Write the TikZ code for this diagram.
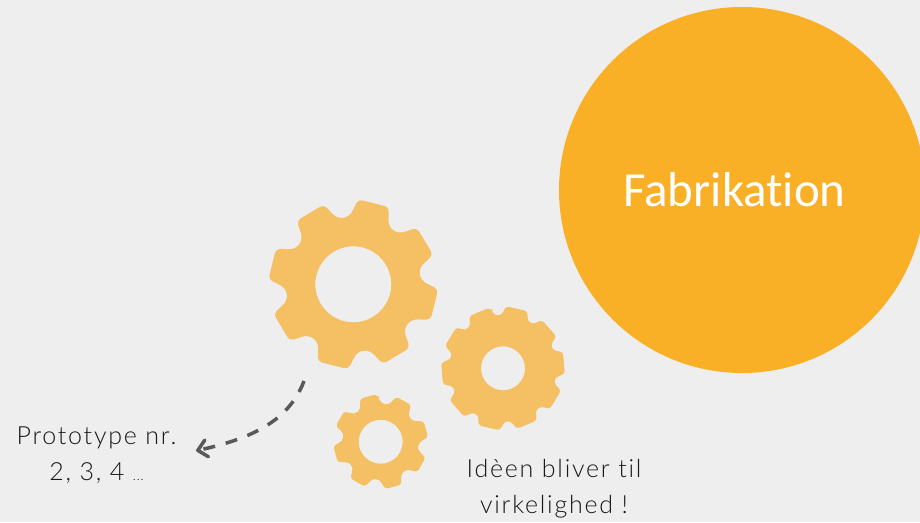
\documentclass[tikz,border=0pt]{standalone}
\usepackage{fontspec}
\usetikzlibrary{arrows.meta}
\setmainfont[Ligatures=NoCommon]{Carlito}
\newfontfamily\handfont[LetterSpace=7,Ligatures=NoCommon]{Lato Light}
\definecolor{backcol}{HTML}{EEEEEE}
\definecolor{suncol}{HTML}{F9B026}
\definecolor{gearcol}{HTML}{F4C063}
\definecolor{dashcol}{HTML}{595959}
\tikzset{
    handtext/.style={align=center,text=black!90,inner sep=0pt,
        font=\handfont\fontsize{25}{36}\selectfont}
}
\begin{document}
\begin{tikzpicture}[x=1pt,y=1pt]
    \useasboundingbox (0,0) rectangle (920,522);
    \clip (0,0) rectangle (920,522);
    \fill[backcol] (0,0) rectangle (920,522);
    \fill[suncol] (742,332) circle (183);
    \node[text=white,inner sep=0pt,font=\fontsize{49}{50}\selectfont]
        (fabrikation) at (734.5,332) {Fabrikation};
    \foreach \cx/\cy/\teeth/\rot/\rtip/\rbase/\rnotch/\rhole/\htip/\hbase/\corner in
        {353.3/237.7/8/53.5/85/78/68.5/38/10.5/13/4,
         503/153.7/10/95/62/58.5/54/22/9.5/12/2.5,
         380.7/80.3/8/83/47.5/44/38.5/22/9.5/12.5/2.5}
    {
        \pgfmathsetmacro\pitch{360/\teeth}
        \pgfmathsetmacro\hnotch{\pitch/2-\hbase}
        \pgfmathsetmacro\rctrl{(4*\rnotch-\rbase)/3}
        \pgfmathtruncatemacro\lastk{\teeth-1}
        \begin{scope}[shift={(\cx,\cy)}]
            \fill[gearcol,even odd rule,rounded corners=\corner pt]
                ({\rot+\hnotch}:\rbase)
                \foreach \k in {0,...,\lastk}
                {
                    -- ({\rot+(\k+0.5)*\pitch-\htip}:\rtip)
                    -- ({\rot+(\k+0.5)*\pitch+\htip}:\rtip)
                    -- ({\rot+(\k+1)*\pitch-\hnotch}:\rbase)
                    .. controls ({\rot+(\k+1)*\pitch-0.5*\hnotch}:\rctrl)
                    and ({\rot+(\k+1)*\pitch+0.5*\hnotch}:\rctrl)
                    .. ({\rot+(\k+1)*\pitch+\hnotch}:\rbase)
                }
                -- cycle
                (0,0) circle (\rhole);
        \end{scope}
    }
    \node[handtext] (protolabel) at (96.5,67)
        {Prototype nr.\\2, 3, 4 {\fontsize{13}{13}\selectfont ...}};
    \node[handtext] (ideelabel) at (554,33) {Idèen bliver til\\virkelighed !};
    \coordinate (gearlink) at (304,141);
    \draw[dashcol,line width=3.5pt,dash pattern=on 12pt off 11pt,
        -{Straight Barb[round,length=9pt,width=17pt]},shorten >=20pt]
        (gearlink) .. controls (288,98) and (245,82) .. (protolabel.east);
\end{tikzpicture}
\end{document}
